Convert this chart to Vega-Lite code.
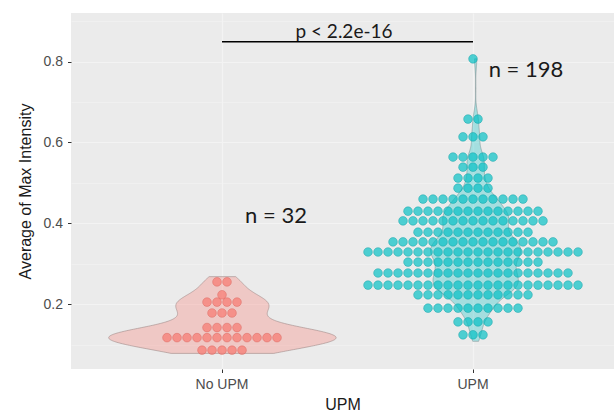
{
 "$schema": "https://vega.github.io/schema/vega-lite/v6.json",
 "width": 543,
 "height": 356,
 "autosize": {"type": "none"},
 "padding": {"left": 71, "top": 13, "right": 0, "bottom": 44},
 "background": "#FFFFFF",
 "config": {"font": "Liberation Sans", "view": {"fill": "#EBEBEB", "stroke": null}},
 "data": {"values": [
  {"g":"No UPM","v":0.255},{"g":"No UPM","v":0.255},
  {"g":"No UPM","v":0.223},
  {"g":"No UPM","v":0.205},{"g":"No UPM","v":0.205},{"g":"No UPM","v":0.205},{"g":"No UPM","v":0.205},
  {"g":"No UPM","v":0.178},{"g":"No UPM","v":0.178},{"g":"No UPM","v":0.178},
  {"g":"No UPM","v":0.142},{"g":"No UPM","v":0.142},{"g":"No UPM","v":0.142},{"g":"No UPM","v":0.142},
  {"g":"No UPM","v":0.117},{"g":"No UPM","v":0.117},{"g":"No UPM","v":0.117},{"g":"No UPM","v":0.117},{"g":"No UPM","v":0.117},{"g":"No UPM","v":0.117},{"g":"No UPM","v":0.117},{"g":"No UPM","v":0.117},{"g":"No UPM","v":0.117},{"g":"No UPM","v":0.117},{"g":"No UPM","v":0.117},{"g":"No UPM","v":0.117},
  {"g":"No UPM","v":0.086},{"g":"No UPM","v":0.086},{"g":"No UPM","v":0.086},{"g":"No UPM","v":0.086},{"g":"No UPM","v":0.086},
  {"g":"UPM","v":0.807},
  {"g":"UPM","v":0.658},{"g":"UPM","v":0.658},
  {"g":"UPM","v":0.614},{"g":"UPM","v":0.614},{"g":"UPM","v":0.614},
  {"g":"UPM","v":0.564},{"g":"UPM","v":0.564},{"g":"UPM","v":0.564},{"g":"UPM","v":0.564},{"g":"UPM","v":0.564},
  {"g":"UPM","v":0.539},{"g":"UPM","v":0.539},{"g":"UPM","v":0.539},
  {"g":"UPM","v":0.512},{"g":"UPM","v":0.512},{"g":"UPM","v":0.512},{"g":"UPM","v":0.512},
  {"g":"UPM","v":0.487},{"g":"UPM","v":0.487},{"g":"UPM","v":0.487},{"g":"UPM","v":0.487},
  {"g":"UPM","v":0.46},{"g":"UPM","v":0.46},{"g":"UPM","v":0.46},{"g":"UPM","v":0.46},{"g":"UPM","v":0.46},{"g":"UPM","v":0.46},{"g":"UPM","v":0.46},{"g":"UPM","v":0.46},{"g":"UPM","v":0.46},{"g":"UPM","v":0.46},{"g":"UPM","v":0.46},
  {"g":"UPM","v":0.43},{"g":"UPM","v":0.43},{"g":"UPM","v":0.43},{"g":"UPM","v":0.43},{"g":"UPM","v":0.43},{"g":"UPM","v":0.43},{"g":"UPM","v":0.43},{"g":"UPM","v":0.43},{"g":"UPM","v":0.43},{"g":"UPM","v":0.43},{"g":"UPM","v":0.43},{"g":"UPM","v":0.43},{"g":"UPM","v":0.43},{"g":"UPM","v":0.43},
  {"g":"UPM","v":0.406},{"g":"UPM","v":0.406},{"g":"UPM","v":0.406},{"g":"UPM","v":0.406},{"g":"UPM","v":0.406},{"g":"UPM","v":0.406},{"g":"UPM","v":0.406},{"g":"UPM","v":0.406},{"g":"UPM","v":0.406},{"g":"UPM","v":0.406},{"g":"UPM","v":0.406},{"g":"UPM","v":0.406},{"g":"UPM","v":0.406},{"g":"UPM","v":0.406},{"g":"UPM","v":0.406},
  {"g":"UPM","v":0.378},{"g":"UPM","v":0.378},{"g":"UPM","v":0.378},{"g":"UPM","v":0.378},{"g":"UPM","v":0.378},{"g":"UPM","v":0.378},{"g":"UPM","v":0.378},{"g":"UPM","v":0.378},{"g":"UPM","v":0.378},{"g":"UPM","v":0.378},{"g":"UPM","v":0.378},{"g":"UPM","v":0.378},
  {"g":"UPM","v":0.354},{"g":"UPM","v":0.354},{"g":"UPM","v":0.354},{"g":"UPM","v":0.354},{"g":"UPM","v":0.354},{"g":"UPM","v":0.354},{"g":"UPM","v":0.354},{"g":"UPM","v":0.354},{"g":"UPM","v":0.354},{"g":"UPM","v":0.354},{"g":"UPM","v":0.354},{"g":"UPM","v":0.354},{"g":"UPM","v":0.354},{"g":"UPM","v":0.354},{"g":"UPM","v":0.354},{"g":"UPM","v":0.354},{"g":"UPM","v":0.354},
  {"g":"UPM","v":0.329},{"g":"UPM","v":0.329},{"g":"UPM","v":0.329},{"g":"UPM","v":0.329},{"g":"UPM","v":0.329},{"g":"UPM","v":0.329},{"g":"UPM","v":0.329},{"g":"UPM","v":0.329},{"g":"UPM","v":0.329},{"g":"UPM","v":0.329},{"g":"UPM","v":0.329},{"g":"UPM","v":0.329},{"g":"UPM","v":0.329},{"g":"UPM","v":0.329},{"g":"UPM","v":0.329},{"g":"UPM","v":0.329},{"g":"UPM","v":0.329},{"g":"UPM","v":0.329},{"g":"UPM","v":0.329},{"g":"UPM","v":0.329},{"g":"UPM","v":0.329},{"g":"UPM","v":0.329},
  {"g":"UPM","v":0.304},{"g":"UPM","v":0.304},{"g":"UPM","v":0.304},{"g":"UPM","v":0.304},{"g":"UPM","v":0.304},{"g":"UPM","v":0.304},{"g":"UPM","v":0.304},{"g":"UPM","v":0.304},{"g":"UPM","v":0.304},{"g":"UPM","v":0.304},{"g":"UPM","v":0.304},{"g":"UPM","v":0.304},{"g":"UPM","v":0.304},{"g":"UPM","v":0.304},
  {"g":"UPM","v":0.277},{"g":"UPM","v":0.277},{"g":"UPM","v":0.277},{"g":"UPM","v":0.277},{"g":"UPM","v":0.277},{"g":"UPM","v":0.277},{"g":"UPM","v":0.277},{"g":"UPM","v":0.277},{"g":"UPM","v":0.277},{"g":"UPM","v":0.277},{"g":"UPM","v":0.277},{"g":"UPM","v":0.277},{"g":"UPM","v":0.277},{"g":"UPM","v":0.277},{"g":"UPM","v":0.277},{"g":"UPM","v":0.277},{"g":"UPM","v":0.277},{"g":"UPM","v":0.277},{"g":"UPM","v":0.277},{"g":"UPM","v":0.277},
  {"g":"UPM","v":0.247},{"g":"UPM","v":0.247},{"g":"UPM","v":0.247},{"g":"UPM","v":0.247},{"g":"UPM","v":0.247},{"g":"UPM","v":0.247},{"g":"UPM","v":0.247},{"g":"UPM","v":0.247},{"g":"UPM","v":0.247},{"g":"UPM","v":0.247},{"g":"UPM","v":0.247},{"g":"UPM","v":0.247},{"g":"UPM","v":0.247},{"g":"UPM","v":0.247},{"g":"UPM","v":0.247},{"g":"UPM","v":0.247},{"g":"UPM","v":0.247},{"g":"UPM","v":0.247},{"g":"UPM","v":0.247},{"g":"UPM","v":0.247},{"g":"UPM","v":0.247},{"g":"UPM","v":0.247},
  {"g":"UPM","v":0.223},{"g":"UPM","v":0.223},{"g":"UPM","v":0.223},{"g":"UPM","v":0.223},{"g":"UPM","v":0.223},{"g":"UPM","v":0.223},{"g":"UPM","v":0.223},{"g":"UPM","v":0.223},{"g":"UPM","v":0.223},{"g":"UPM","v":0.223},{"g":"UPM","v":0.223},{"g":"UPM","v":0.223},
  {"g":"UPM","v":0.19},{"g":"UPM","v":0.19},{"g":"UPM","v":0.19},{"g":"UPM","v":0.19},{"g":"UPM","v":0.19},{"g":"UPM","v":0.19},{"g":"UPM","v":0.19},{"g":"UPM","v":0.19},{"g":"UPM","v":0.19},{"g":"UPM","v":0.19},
  {"g":"UPM","v":0.156},{"g":"UPM","v":0.156},{"g":"UPM","v":0.156},{"g":"UPM","v":0.156},
  {"g":"UPM","v":0.124},{"g":"UPM","v":0.124},{"g":"UPM","v":0.124}
 ]},
 "resolve": {"scale": {"x": "independent"}},
 "layer": [
  {
   "transform": [
    {"filter": "datum.g === 'No UPM'"},
    {"density": "v", "bandwidth": 0.022, "extent": [0.078, 0.268], "steps": 200, "as": ["v", "dens"]}
   ],
   "mark": {"type": "area", "orient": "horizontal", "fill": "#F8766D", "fillOpacity": 0.3, "stroke": "#9A8583", "strokeOpacity": 0.8, "strokeWidth": 0.7},
   "encoding": {
    "x": {"field": "dens", "type": "quantitative", "stack": "center", "scale": {"domain": [-1.552, 20.814], "nice": false, "zero": false}, "axis": null},
    "y": {"field": "v", "type": "quantitative", "scale": {"domain": [0.0394, 0.9205], "nice": false, "zero": false},
     "axis": {"title": "Average of Max Intensity", "values": [0.1,0.2,0.3,0.4,0.5,0.6,0.7,0.8,0.9], "format": ".1f",
      "labelExpr": "round(datum.value*10) % 2 == 0 ? datum.label : ''",
      "grid": true, "gridColor": "#F3F3F3",
      "gridWidth": {"condition": {"test": "round(datum.value*10) % 2 == 0", "value": 1.2}, "value": 0.6},
      "tickSize": 3.5, "tickColor": "#333333", "tickWidth": 1,
      "tickOpacity": {"condition": {"test": "round(datum.value*10) % 2 == 0", "value": 1}, "value": 0},
      "domain": false, "labelColor": "#4D4D4D", "labelFontSize": 14, "labelPadding": 5,
      "titleFontSize": 16, "titleFontWeight": "normal", "titleColor": "#1A1A1A", "titlePadding": 10}}
   }
  },
  {
   "transform": [
    {"filter": "datum.g === 'UPM'"},
    {"density": "v", "bandwidth": 0.022, "extent": [0.108, 0.807], "steps": 300, "as": ["v", "dens"]}
   ],
   "mark": {"type": "area", "orient": "horizontal", "fill": "#00BFC4", "fillOpacity": 0.3, "stroke": "#7E9495", "strokeOpacity": 0.8, "strokeWidth": 0.7},
   "encoding": {
    "x": {"field": "dens", "type": "quantitative", "stack": "center", "scale": {"domain": [-14.808, 7.558], "nice": false, "zero": false}, "axis": null},
    "y": {"field": "v", "type": "quantitative", "scale": {"domain": [0.0394, 0.9205], "nice": false, "zero": false}}
   }
  },
  {
   "layer": [
    {
     "transform": [
      {"window": [{"op": "count", "as": "one"}], "frame": [0, 0]},
      {"stack": "one", "groupby": ["g", "v"], "offset": "center", "as": ["s0", "s1"]}
     ],
     "mark": {"type": "circle", "size": 76, "fillOpacity": 0.68, "strokeWidth": 0.6, "strokeOpacity": 0.7},
     "encoding": {
      "x": {"field": "g", "type": "nominal", "scale": {"domain": ["No UPM", "UPM"], "paddingInner": 0, "paddingOuter": 0.0817, "align": 0.622},
       "axis": {"title": "UPM", "labelAngle": 0, "grid": true, "gridColor": "#F3F3F3", "gridWidth": 1.2, "tickSize": 3.5, "tickColor": "#333333", "domain": false, "labelColor": "#4D4D4D", "labelFontSize": 14, "labelPadding": 5, "titleFontSize": 16, "titleFontWeight": "normal", "titleColor": "#1A1A1A", "titlePadding": 5, "bandPosition": 0.5}},
      "xOffset": {"field": "s1", "type": "quantitative", "scale": {"domain": [-1.05, 24.05], "nice": false, "zero": false}},
      "y": {"field": "v", "type": "quantitative", "scale": {"domain": [0.0394, 0.9205], "nice": false, "zero": false}},
      "fill": {"field": "g", "type": "nominal", "scale": {"domain": ["No UPM", "UPM"], "range": ["#F8766D", "#00BFC4"]}, "legend": null},
      "stroke": {"field": "g", "type": "nominal", "scale": {"domain": ["No UPM", "UPM"], "range": ["#D95F57", "#0A9DA2"]}, "legend": null}
     }
    },
    {
     "data": {"values": [{"label": "p < 2.2e-16"}]},
     "mark": {"type": "rule", "color": "#000000", "strokeWidth": 1.6},
     "encoding": {
      "x": {"datum": "No UPM", "type": "nominal", "scale": {"domain": ["No UPM", "UPM"], "paddingInner": 0, "paddingOuter": 0.0817, "align": 0.622}},
      "x2": {"datum": "UPM"},
      "y": {"datum": 0.8495, "type": "quantitative", "scale": {"domain": [0.0394, 0.9205], "nice": false, "zero": false}}
     }
    },
    {
     "data": {"values": [{"label": "p < 2.2e-16"}]},
     "mark": {"type": "text", "font": "Lato", "fontSize": 19, "color": "#1A1A1A", "baseline": "alphabetic", "align": "center"},
     "encoding": {
      "text": {"field": "label"},
      "x": {"datum": "No UPM", "type": "nominal", "scale": {"domain": ["No UPM", "UPM"], "paddingInner": 0, "paddingOuter": 0.0817, "align": 0.622}},
      "xOffset": {"datum": 23.7, "type": "quantitative", "scale": {"domain": [-1.05, 24.05], "nice": false, "zero": false}},
      "y": {"datum": 0.859, "type": "quantitative", "scale": {"domain": [0.0394, 0.9205], "nice": false, "zero": false}}
     }
    },
    {
     "data": {"values": [{"label": "n = 198"}]},
     "mark": {"type": "text", "font": "Lato", "fontSize": 22, "color": "#1A1A1A", "baseline": "alphabetic", "align": "center"},
     "encoding": {
      "text": {"field": "label"},
      "x": {"datum": "UPM", "type": "nominal", "scale": {"domain": ["No UPM", "UPM"], "paddingInner": 0, "paddingOuter": 0.0817, "align": 0.622}},
      "xOffset": {"datum": 16.8, "type": "quantitative", "scale": {"domain": [-1.05, 24.05], "nice": false, "zero": false}},
      "y": {"datum": 0.7621, "type": "quantitative", "scale": {"domain": [0.0394, 0.9205], "nice": false, "zero": false}}
     }
    },
    {
     "data": {"values": [{"label": "n = 32"}]},
     "mark": {"type": "text", "font": "Lato", "fontSize": 22, "color": "#1A1A1A", "baseline": "alphabetic", "align": "center"},
     "encoding": {
      "text": {"field": "label"},
      "x": {"datum": "No UPM", "type": "nominal", "scale": {"domain": ["No UPM", "UPM"], "paddingInner": 0, "paddingOuter": 0.0817, "align": 0.622}},
      "xOffset": {"datum": 16.9, "type": "quantitative", "scale": {"domain": [-1.05, 24.05], "nice": false, "zero": false}},
      "y": {"datum": 0.4007, "type": "quantitative", "scale": {"domain": [0.0394, 0.9205], "nice": false, "zero": false}}
     }
    }
   ]
  }
 ]
}
